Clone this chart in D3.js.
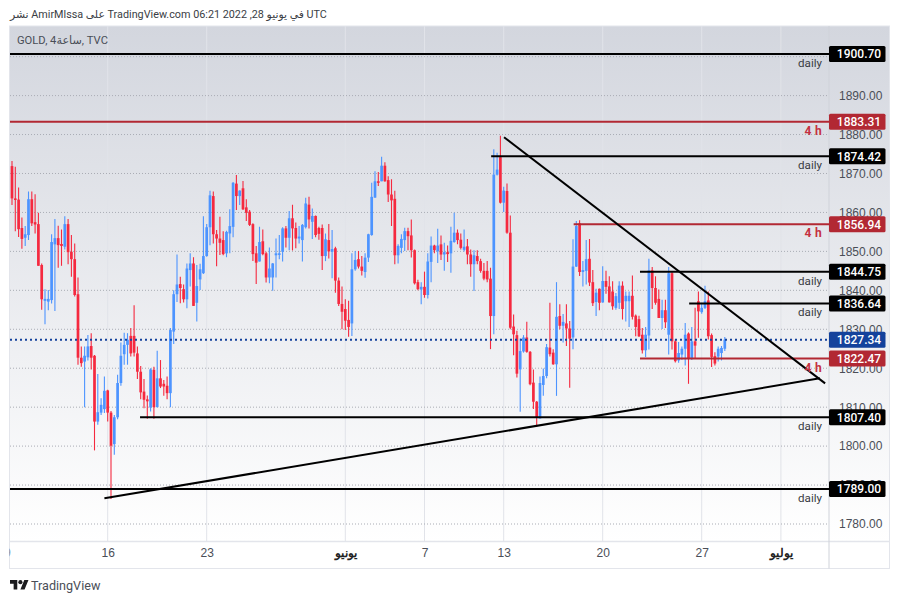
<!DOCTYPE html>
<html>
<head>
<meta charset="utf-8">
<style>
  html, body { margin: 0; padding: 0; background: #fff; }
  svg { display: block; font-family: Roboto, "DejaVu Sans", sans-serif; }
  .tick-label text { fill: #4a4e57; font-size: 12px; }
</style>
</head>
<body>
<svg id="chart" width="900" height="602"></svg>
<script src="https://cdn.jsdelivr.net/npm/d3@7"></script>
<script>
// 4h candles
const opens = [
  1871.9, 1863.6, 1863.3, 1856, 1853.5, 1854.2, 1863.4, 1857.5, 1857, 1846.5,
  1837.3, 1837.1, 1837.5, 1851.8, 1853.4, 1851.9, 1851.2, 1857, 1849.9, 1848,
  1839, 1822.7, 1821.7, 1822.8, 1825.7, 1823.2, 1806.3, 1808.6, 1809.5, 1814.3,
  1808.6, 1800.5, 1807.4, 1816.2, 1823.6, 1826, 1828.3, 1828.3, 1823.8, 1819.1,
  1814, 1812, 1809.9, 1819.6, 1810, 1817.4, 1816, 1815.5, 1813.6, 1829.4,
  1839, 1841.6, 1840.3, 1837.7, 1845.2, 1846.9, 1836.8, 1842.8, 1844.4, 1848.8,
  1856.2, 1864.2, 1854.4, 1853.3, 1852.9, 1849.5, 1854.6, 1856.3, 1867.4, 1864.2,
  1866.2, 1861.3, 1860.2, 1857, 1849.5, 1847.4, 1852.6, 1849.5, 1843.3, 1843.3,
  1849, 1849.1, 1849.9, 1855.9, 1853.5, 1858.5, 1856, 1853.3, 1852.9, 1856.2,
  1862, 1857.6, 1859.1, 1856, 1856, 1848.8, 1852.9, 1849.9, 1850.8, 1842.5,
  1836.5, 1835.2, 1832.4, 1831.5, 1845.4, 1848, 1846.1, 1844.7, 1848.4, 1854.2,
  1863.8, 1868, 1868, 1872, 1868.3, 1864.6, 1863.5, 1849, 1850.9, 1852.9,
  1855.2, 1854.1, 1850.3, 1842.1, 1840.2, 1840.9, 1838.8, 1847.3, 1851.5, 1850,
  1851.8, 1849.2, 1849.8, 1849.5, 1852.4, 1854.8, 1853, 1850.4, 1851.3, 1849.2,
  1846.7, 1848.8, 1847.5, 1845, 1845, 1843, 1833.4, 1869.7, 1874.2, 1862.5,
  1865.5, 1854.8, 1830.7, 1828.5, 1819.7, 1824.3, 1827.9, 1824.2, 1816.3, 1811.4,
  1807.1, 1815.7, 1818, 1825.3, 1824, 1821, 1833.4, 1830.9, 1831.5, 1830.2,
  1827.9, 1846.1, 1857.2, 1844.7, 1845, 1848.1, 1842.1, 1837, 1840.4, 1836.9,
  1842.4, 1841, 1839.7, 1835.5, 1836.8, 1841.2, 1837.2, 1837.2, 1838.6, 1833.5,
  1832.6, 1828.6, 1824.6, 1828.4, 1845.1, 1840.6, 1837.8, 1832.9, 1834.9, 1828.6,
  1844.4, 1826.9, 1822, 1823.5, 1825, 1828.9, 1822.6, 1826.9, 1837.2, 1834.4,
  1835.5, 1837.4, 1828.5, 1823.1, 1823, 1823.9, 1825
];
const closes = [
  1863.6, 1863.2, 1855.7, 1853.2, 1854.4, 1863.4, 1857.2, 1856.9, 1846.3, 1837.7,
  1837.8, 1837.8, 1852.4, 1853.4, 1851.6, 1851.4, 1857, 1849.8, 1848, 1838.8,
  1822.7, 1821.3, 1823.2, 1825.6, 1822.7, 1806.3, 1808.7, 1810.6, 1814.2, 1808.6,
  1800.1, 1807.4, 1816.2, 1823.2, 1826, 1827.3, 1823.8, 1824, 1819.1, 1813.8,
  1811.9, 1811.5, 1819.7, 1810, 1817.4, 1815.3, 1815.3, 1813.6, 1829.8, 1839,
  1841.5, 1840.6, 1837.7, 1845.6, 1846.9, 1836, 1841.1, 1845.4, 1848.8, 1856.2,
  1864.4, 1854.4, 1853.3, 1852.2, 1849.3, 1855, 1856.5, 1867.6, 1864.2, 1865.6,
  1860.8, 1859.9, 1856.8, 1849.3, 1847.1, 1852.4, 1849.3, 1843.3, 1845.6, 1846.9,
  1849.5, 1849.5, 1855.9, 1853.5, 1858.5, 1855.9, 1853.3, 1853.8, 1856.8, 1862.3,
  1858.2, 1859.1, 1854.2, 1854.5, 1848.8, 1853.1, 1850, 1850.6, 1842.5, 1836.5,
  1834.5, 1832.2, 1830.6, 1845.4, 1847.8, 1846.1, 1845, 1848.4, 1854.4, 1864,
  1868, 1867.6, 1872, 1868, 1864.6, 1863.1, 1849, 1851.4, 1853.2, 1855.2,
  1853.9, 1850.3, 1841.8, 1840.3, 1840.9, 1838.8, 1847.4, 1851.5, 1850.3, 1851.5,
  1849.2, 1849.8, 1849.3, 1852.7, 1854.8, 1852.9, 1850.9, 1851.2, 1849.2, 1846.7,
  1849, 1847.5, 1845, 1843, 1842.8, 1833.4, 1869.7, 1871, 1862.5, 1865.6,
  1854.8, 1830.4, 1828.7, 1818.6, 1824.4, 1827.9, 1824.2, 1815.9, 1811.4, 1807.4,
  1816.2, 1818, 1825.4, 1823.6, 1821, 1833.2, 1830.9, 1831.9, 1830.2, 1827.6,
  1846.1, 1856.5, 1844.7, 1845.2, 1848, 1842, 1836.7, 1839.4, 1836.8, 1842.4,
  1840.9, 1836.9, 1835.9, 1838.5, 1841.2, 1835.2, 1838.6, 1838.6, 1833.2, 1830.6,
  1828.2, 1824.6, 1828.6, 1845.1, 1840.6, 1836.8, 1832.9, 1834.9, 1831.8, 1844.4,
  1826.9, 1821.8, 1823.9, 1825, 1828.6, 1822.5, 1826.9, 1825.8, 1834.6, 1835.5,
  1837.2, 1828.2, 1822.9, 1821.2, 1825, 1825.2, 1827.34
];
const highs = [
  1873.2, 1871.7, 1866.4, 1858.7, 1856.5, 1865.4, 1865.4, 1864.7, 1859.9, 1846.9,
  1840.3, 1840.1, 1854.4, 1858.3, 1856.6, 1855.6, 1859, 1858.3, 1854.2, 1852,
  1843.3, 1825.6, 1825.6, 1828.5, 1829, 1823.4, 1818.5, 1812.3, 1817.9, 1814.5,
  1809, 1808, 1818.3, 1826.6, 1829.1, 1829, 1830.3, 1836.2, 1825.6, 1820.6,
  1817.2, 1813, 1820, 1820.4, 1824.5, 1822.1, 1817, 1817.9, 1830.3, 1840,
  1849.2, 1843.5, 1841.5, 1846.9, 1849.5, 1848.5, 1846.5, 1846.8, 1859, 1857,
  1865.6, 1865.4, 1855.5, 1858.9, 1855.2, 1855.3, 1860.8, 1867.8, 1869.6, 1865.7,
  1868.1, 1863.4, 1860.6, 1857.2, 1851.4, 1856.3, 1855.6, 1849.9, 1851, 1847,
  1853.3, 1854.2, 1856.2, 1856.5, 1860.4, 1862, 1857.4, 1856.5, 1857, 1863.8,
  1864, 1861, 1859.2, 1856.3, 1856.9, 1854.6, 1857, 1855.5, 1851.2, 1843.3,
  1841, 1837.7, 1837.3, 1849.5, 1850.1, 1850.1, 1848.8, 1849.5, 1854.5, 1867.6,
  1870.6, 1870.4, 1874.3, 1872.9, 1869.3, 1868.5, 1865.6, 1851.8, 1854.4, 1856.1,
  1856.1, 1858.2, 1850.5, 1842.7, 1842.1, 1844.8, 1849.5, 1853.8, 1851.7, 1855.8,
  1854.1, 1852.2, 1851.5, 1856.3, 1859.9, 1855.6, 1854.6, 1855.6, 1853.2, 1850.5,
  1850.3, 1850.3, 1848.1, 1847, 1847.5, 1845.8, 1876.2, 1875.3, 1879.7, 1866.6,
  1867.4, 1859.2, 1833.8, 1829.6, 1827.6, 1828.5, 1831.9, 1824.4, 1819.7, 1811.6,
  1817.9, 1819.9, 1826.2, 1836.8, 1824.9, 1842.1, 1836.4, 1833.9, 1836.4, 1832.1,
  1853.1, 1857.8, 1858, 1847.5, 1852.9, 1853.2, 1845.2, 1840.4, 1840.5, 1846.2,
  1845, 1843.6, 1842.3, 1839.3, 1842.3, 1842.3, 1839.7, 1839.7, 1843.8, 1833.8,
  1833.5, 1830.3, 1830.6, 1848.1, 1846, 1843.6, 1840.2, 1837.6, 1837.6, 1846,
  1844.9, 1827.4, 1826.7, 1825.6, 1831.6, 1829.2, 1830.6, 1835.5, 1839.7, 1836.8,
  1841.2, 1839.7, 1828.9, 1824.1, 1825.6, 1825.7, 1828
];
const lows = [
  1861.9, 1855.2, 1853.7, 1850.7, 1851.4, 1852.9, 1856.5, 1854.6, 1846.3, 1835,
  1831.3, 1834.9, 1836.6, 1834.7, 1845.8, 1846.3, 1850.5, 1846.7, 1843.5, 1838.4,
  1820.9, 1820.4, 1810, 1822, 1819.7, 1798.9, 1805.5, 1808, 1808.5, 1806.3,
  1786.4, 1797.8, 1806.9, 1815.5, 1820.9, 1820.9, 1823, 1823, 1817.2, 1812,
  1809.7, 1807, 1808.9, 1807, 1810, 1814.9, 1812.9, 1812, 1810, 1826.2,
  1837, 1836.7, 1836.9, 1835.4, 1841, 1836, 1832, 1840.1, 1844.2, 1848.6,
  1851.6, 1852, 1846.2, 1849.1, 1849, 1848.5, 1849.5, 1853.6, 1860.6, 1861.9,
  1860.6, 1857.8, 1856.5, 1847.5, 1841.6, 1847.4, 1849, 1842, 1841.8, 1839.9,
  1843.3, 1848, 1847.4, 1851, 1850.3, 1850.2, 1850.8, 1852, 1847.4, 1855.9,
  1855.9, 1853.2, 1853.6, 1853, 1845.2, 1847.5, 1848.2, 1843.1, 1839.4, 1836,
  1830, 1829.8, 1828.1, 1828.3, 1845, 1845.6, 1843.8, 1843.2, 1847.3, 1854,
  1863.8, 1866.8, 1868, 1867.9, 1862.7, 1856.5, 1846.7, 1846.9, 1849.5, 1850.1,
  1850.3, 1848.4, 1841.5, 1840, 1836.4, 1838.1, 1837.9, 1842.1, 1849.5, 1847,
  1847.8, 1845, 1847.3, 1844.5, 1852.2, 1851.8, 1850.5, 1850, 1846.7, 1843.5,
  1839.8, 1846.7, 1844.5, 1842.6, 1842.1, 1824.9, 1828.7, 1869.5, 1862.3, 1860.1,
  1854.5, 1830, 1823.3, 1817.6, 1808.8, 1824, 1824, 1815.6, 1809.5, 1805,
  1807.1, 1812.9, 1817.4, 1823, 1820.9, 1812.9, 1830, 1826.6, 1825.7, 1815,
  1824.9, 1846, 1843.7, 1841, 1841.5, 1841.1, 1836, 1833.4, 1834.9, 1836.8,
  1839.1, 1836.9, 1835, 1835, 1835.2, 1832.5, 1832, 1830.6, 1832.5, 1828.2,
  1828, 1823.8, 1822.9, 1824.8, 1835.2, 1836.3, 1832.9, 1830.1, 1830.3, 1823.5,
  1824.8, 1821.5, 1821.4, 1822.2, 1820.7, 1816, 1822.1, 1822.4, 1827.8, 1834,
  1835.2, 1827.4, 1820.3, 1820.7, 1821.7, 1822, 1824.4
];

const gridPrices = [1780, 1790, 1800, 1810, 1820, 1830, 1840, 1850, 1860, 1870, 1880, 1890, 1900];
const priceTicks = [1780, 1790, 1800, 1810, 1820, 1830, 1840, 1850, 1860, 1870, 1880, 1890];
// candle index of each date label, the first one is cut by the left edge
const timeTicks = [-1.6, 29, 59, 101, 125, 149, 179, 209, 233];
const timeLabels = ["9", "16", "23", "يونيو", "7", "13", "20", "27", "يوليو"];

const levelPrices = [1900.70, 1883.31, 1874.42, 1856.94, 1844.75, 1836.64, 1822.47, 1807.40, 1789.00];
const levelNames = ["daily", "4 h", "daily", "4 h", "daily", "daily", "4 h", "daily", "daily"];
const levelStarts = [-1, -1, 145.2, 170.2, 190.3, 205.2, 190.3, 38.8, -1];

const lastPrice = 1827.34;

// two drawn trend lines: [candle index, price] at both ends
const fallingLine = [[149.1, 1879.3], [246.4, 1816.1]];
const risingLine = [[28, 1786.6], [244.8, 1817.4]];

const plot = { left: 10, right: 829, top: 26, bottom: 541.5 };
const frame = { left: 9.5, right: 889.5, top: 26, bottom: 568.5 };
const black = "#000";
const red = "#b22833";
const upColor = "#4d94ff";
const downColor = "#f5293f";

const x = d3.scaleLinear().domain([0, 100]).range([12, 342]);
const y = d3.scaleLinear().domain([1780, 1890]).range([524, 95.6]);

const svg = d3.select("#chart");
const defs = svg.append("defs");

const grad = defs.append("linearGradient")
  .attr("id", "bg").attr("x1", 0).attr("x2", 0).attr("y1", 0).attr("y2", 1);
grad.append("stop").attr("offset", "0%").attr("stop-color", "#d3d6de");
grad.append("stop").attr("offset", "100%").attr("stop-color", "#ffffff");

defs.append("clipPath").attr("id", "plot-clip")
  .append("rect")
  .attr("x", plot.left).attr("y", plot.top)
  .attr("width", plot.right - plot.left).attr("height", plot.bottom - plot.top);

defs.append("clipPath").attr("id", "time-clip")
  .append("rect")
  .attr("x", frame.left).attr("y", plot.bottom)
  .attr("width", frame.right - frame.left).attr("height", frame.bottom - plot.bottom);

// title above the chart
svg.append("text")
  .attr("x", 10).attr("y", 18)
  .attr("direction", "ltr")
  .attr("font-size", 10.8)
  .attr("fill", "#3a3d44")
  .text("نشر AmirMlssa على TradingView.com 06:21 2022 ,28 في يونيو UTC");

// background and frame
svg.append("rect")
  .attr("x", frame.left).attr("y", frame.top)
  .attr("width", frame.right - frame.left).attr("height", plot.bottom - frame.top)
  .attr("fill", "url(#bg)");
svg.append("rect")
  .attr("x", frame.left).attr("y", frame.top)
  .attr("width", frame.right - frame.left).attr("height", frame.bottom - frame.top)
  .attr("fill", "none").attr("stroke", "#e3e5eb");
svg.append("line")
  .attr("x1", frame.left).attr("x2", frame.right)
  .attr("y1", plot.bottom).attr("y2", plot.bottom)
  .attr("stroke", "#e3e5eb").attr("stroke-width", 1.5);
svg.append("line")
  .attr("x1", plot.right).attr("x2", plot.right)
  .attr("y1", frame.top).attr("y2", frame.bottom)
  .attr("stroke", "#cfd2d9");

const chart = svg.append("g").attr("clip-path", "url(#plot-clip)");

// grid
chart.append("g").selectAll("line")
  .data(timeTicks)
  .join("line")
  .attr("x1", d => x(d)).attr("x2", d => x(d))
  .attr("y1", plot.top).attr("y2", plot.bottom)
  .attr("stroke", "#e1e3e9");
chart.append("g").selectAll("line")
  .data(gridPrices)
  .join("line")
  .attr("x1", plot.left).attr("x2", plot.right)
  .attr("y1", d => y(d)).attr("y2", d => y(d))
  .attr("stroke", "#a9acb4")
  .attr("stroke-dasharray", "1 2");

// candles
const candles = chart.append("g").selectAll("g")
  .data(d3.range(opens.length))
  .join("g")
  .attr("fill", i => closes[i] >= opens[i] ? upColor : downColor)
  .attr("stroke", i => closes[i] >= opens[i] ? upColor : downColor);
candles.append("line")
  .attr("x1", i => x(i)).attr("x2", i => x(i))
  .attr("y1", i => y(highs[i])).attr("y2", i => y(lows[i]))
  .attr("stroke-width", 1.1);
candles.append("rect")
  .attr("x", i => x(i) - 1.35)
  .attr("width", 2.7)
  .attr("y", i => y(Math.max(opens[i], closes[i])))
  .attr("height", i => Math.max(Math.abs(y(opens[i]) - y(closes[i])), 1))
  .attr("stroke", "none");

// horizontal levels
chart.append("g").selectAll("line")
  .data(levelPrices)
  .join("line")
  .attr("x1", (d, i) => x(levelStarts[i])).attr("x2", plot.right)
  .attr("y1", d => y(d)).attr("y2", d => y(d))
  .attr("stroke", (d, i) => levelNames[i] === "daily" ? black : red)
  .attr("stroke-width", 2);

// last price
chart.append("line")
  .attr("x1", plot.left).attr("x2", plot.right)
  .attr("y1", y(lastPrice)).attr("y2", y(lastPrice))
  .attr("stroke", "#14429c")
  .attr("stroke-width", 2)
  .attr("stroke-dasharray", "2 3");

// trend lines
const trend = d3.line().x(d => x(d[0])).y(d => y(d[1]));
chart.selectAll(".trend")
  .data([fallingLine, risingLine])
  .join("path")
  .attr("class", "trend")
  .attr("d", trend)
  .attr("fill", "none")
  .attr("stroke", black)
  .attr("stroke-width", 2);

// level captions under each line
chart.append("g").selectAll("text")
  .data(levelPrices)
  .join("text")
  .attr("x", 822)
  .attr("y", d => y(d) + 13)
  .attr("text-anchor", "end")
  .attr("font-size", (d, i) => levelNames[i] === "daily" ? 11.6 : 12)
  .attr("font-weight", (d, i) => levelNames[i] === "daily" ? 400 : 700)
  .attr("letter-spacing", (d, i) => levelNames[i] === "daily" ? 0 : 0.3)
  .attr("fill", (d, i) => levelNames[i] === "daily" ? "#3a3d44" : "#c5303f")
  .text((d, i) => levelNames[i]);

// price axis
const yAxis = d3.axisRight(y)
  .tickValues(priceTicks)
  .tickSize(0)
  .tickPadding(10)
  .tickFormat(d3.format(".2f"));
svg.append("g")
  .attr("class", "tick-label")
  .attr("transform", `translate(${plot.right},0)`)
  .call(yAxis)
  .call(g => g.select(".domain").remove());

// time axis, the clip sits on an outer group so it stays in page coordinates
const xAxis = d3.axisBottom(x)
  .tickValues(timeTicks)
  .tickSize(0)
  .tickPadding(7)
  .tickFormat((d, i) => timeLabels[i]);
svg.append("g")
  .attr("clip-path", "url(#time-clip)")
  .append("g")
  .attr("class", "tick-label")
  .attr("transform", `translate(0,${plot.bottom})`)
  .call(xAxis)
  .call(g => g.select(".domain").remove())
  .call(g => g.selectAll("text")
    .attr("font-weight", (d, i) => timeLabels[i].length > 2 ? 700 : 400)
    .style("fill", (d, i) => timeLabels[i].length > 2 ? "#222" : null));

// price tags on the axis
const tagPrices = levelPrices.concat([lastPrice]);
const tags = svg.append("g").selectAll("g")
  .data(tagPrices)
  .join("g")
  .attr("transform", d => `translate(${plot.right},${y(d)})`);
tags.append("rect")
  .attr("x", 0).attr("y", -8)
  .attr("width", 56.5).attr("height", 16)
  .attr("rx", 1.5)
  .attr("fill", (d, i) => i === levelPrices.length ? "#14429c" : (levelNames[i] === "daily" ? black : red));
tags.append("text")
  .attr("x", 30).attr("y", 4.3)
  .attr("text-anchor", "middle")
  .attr("font-size", 12)
  .attr("font-weight", 500)
  .attr("fill", "#fff")
  .text(d => d3.format(".2f")(d));

// symbol name
svg.append("text")
  .attr("x", 17).attr("y", 44)
  .attr("direction", "ltr")
  .attr("font-size", 11.2)
  .attr("fill", "#4a4e57")
  .text("GOLD, 4ساعة, TVC");

// footer logo
const logo = svg.append("g").attr("transform", "translate(10,578) scale(0.52)").attr("fill", "#1c1c1f");
logo.append("path").attr("d", "M14 22H7V11H0V4h14v18zM28 22h-8l7.5-18h8L28 22z");
logo.append("circle").attr("cx", 20).attr("cy", 8).attr("r", 4);
svg.append("text")
  .attr("x", 31).attr("y", 590)
  .attr("font-size", 12.6)
  .attr("fill", "#4a4e57")
  .text("TradingView");
</script>
</body>
</html>
